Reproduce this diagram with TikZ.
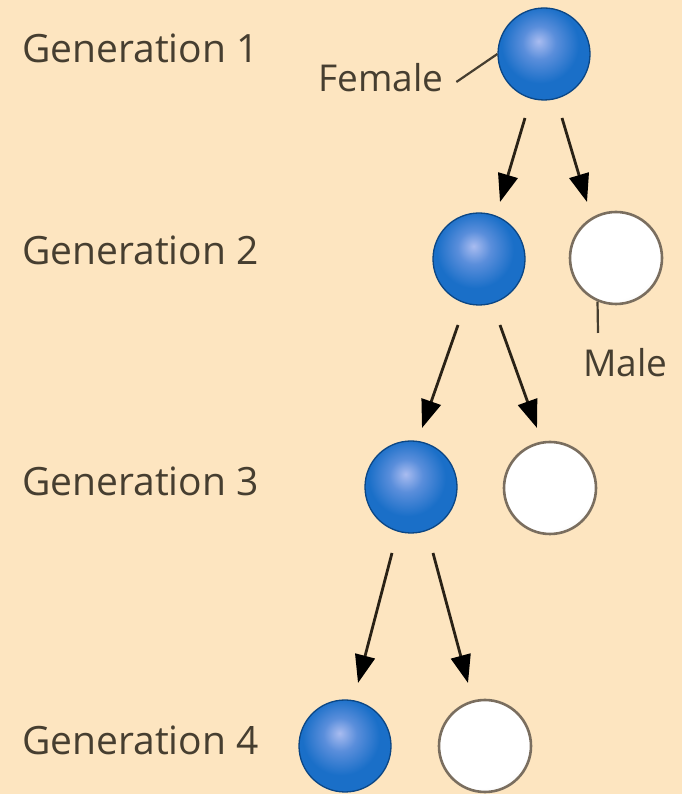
\documentclass[tikz,border=0pt]{standalone}
\usepackage{fontspec}
\setmainfont{Open Sans}
\usetikzlibrary{arrows.meta}

\definecolor{paper}{HTML}{FDE5C0}
\definecolor{ink}{HTML}{463E30}
\definecolor{arrowink}{HTML}{2A2216}
\definecolor{fhi}{HTML}{A9BCF0}
\definecolor{fmid}{HTML}{5A8EDB}
\definecolor{fblue}{HTML}{1A6FC8}
\definecolor{fedge}{HTML}{0E58A2}
\definecolor{fline}{HTML}{0B4684}
\definecolor{mgrey}{HTML}{D9D9D5}
\definecolor{mline}{HTML}{7A6E5F}

% sphere shadings, lit from the upper left
\pgfdeclareradialshading{femaleball}{\pgfpoint{-3bp}{7bp}}{%
  color(0bp)=(fhi); color(9bp)=(fmid); color(21bp)=(fblue);
  color(40bp)=(fblue); color(50bp)=(fedge); color(75bp)=(fedge)}
\pgfdeclareradialshading{maleball}{\pgfpoint{-6bp}{8bp}}{%
  color(0bp)=(white); color(28bp)=(white); color(47bp)=(mgrey);
  color(54bp)=(white); color(75bp)=(white)}

\tikzset{
  female/.style={circle, minimum size=92pt, inner sep=0pt,
    shading=femaleball, draw=fline, line width=1.3pt},
  male/.style={circle, minimum size=92pt, inner sep=0pt,
    shading=maleball, draw=mline, line width=2.6pt},
  genlabel/.style={anchor=base west, inner sep=0pt, text=ink,
    font=\fontsize{39}{42}\selectfont},
  sexlabel/.style={anchor=base west, inner sep=0pt, text=ink,
    font=\fontsize{37}{40}\selectfont},
  pointer/.style={draw=ink, line width=2.2pt},
  descent/.style={draw=arrowink, line width=2.8pt,
    -{Triangle[length=28pt,width=20pt,color=black]}},
}

\begin{document}
\begin{tikzpicture}[x=1pt, y=1pt]
  \fill[paper] (0,0) rectangle (682,794);
  \useasboundingbox (0,0) rectangle (682,794);

  % generation labels
  \node[genlabel] (l1) at (22,731) {Generation 1};
  \node[genlabel] (l2) at (22,529) {Generation 2};
  \node[genlabel] (l3) at (22,298) {Generation 3};
  \node[genlabel] (l4) at (22,39)  {Generation 4};

  % individuals
  \node[female] (g1)  at (544,740) {};
  \node[female] (g2f) at (479,535) {};
  \node[male]   (g2m) at (616,536) {};
  \node[female] (g3f) at (411,307) {};
  \node[male]   (g3m) at (550,306) {};
  \node[female] (g4f) at (345,48)  {};
  \node[male]   (g4m) at (485,48)  {};

  % key labels
  \node[sexlabel] (fem)  at (318,702) {Female};
  \node[sexlabel] (male) at (583,417) {Male};
  \coordinate (mtop) at (598,461);
  \draw[pointer] ([shift={(13pt,10pt)}]fem.base east) -- (g1.west);
  \draw[pointer] (g2m.-113) -- (mtop);

  % descent
  \draw[descent] ([shift={(-19pt,-64pt)}]g1.center)  -- ([shift={(21pt,57pt)}]g2f.center);
  \draw[descent] ([shift={(18pt,-64pt)}]g1.center)   -- ([shift={(-29pt,56pt)}]g2m.center);
  \draw[descent] ([shift={(-21pt,-66pt)}]g2f.center) -- ([shift={(11pt,59pt)}]g3f.center);
  \draw[descent] ([shift={(21pt,-66pt)}]g2f.center)  -- ([shift={(-13pt,60pt)}]g3m.center);
  \draw[descent] ([shift={(-19pt,-66pt)}]g3f.center) -- ([shift={(13pt,63pt)}]g4f.center);
  \draw[descent] ([shift={(22pt,-66pt)}]g3f.center)  -- ([shift={(-17pt,63pt)}]g4m.center);
\end{tikzpicture}
\end{document}
